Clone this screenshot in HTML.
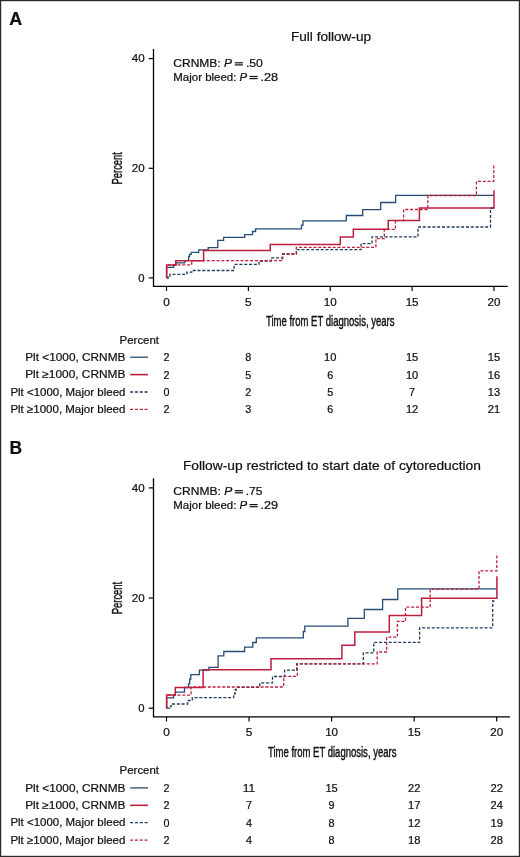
<!DOCTYPE html>
<html><head><meta charset="utf-8"><style>
html,body{margin:0;padding:0;background:#fff;}
body{width:520px;height:857px;overflow:hidden;}
svg{display:block;will-change:transform;}
text{font-family:'Liberation Sans', sans-serif;fill:#111;stroke:#111;stroke-width:0.22px;}
</style></head><body>
<svg width="520" height="857" viewBox="0 0 520 857">
<rect x="0" y="0" width="520" height="857" fill="#fff"/>
<rect x="0.6" y="0.6" width="518.8" height="855.8" fill="none" stroke="#2a2a2a" stroke-width="1.2"/>
<text x="9.3" y="24.8" font-size="17.6" font-weight="bold" textLength="13.0" lengthAdjust="spacingAndGlyphs">A</text>
<text x="9.5" y="453.8" font-size="17.6" font-weight="bold" textLength="12.6" lengthAdjust="spacingAndGlyphs">B</text>
<path d="M153.5,48.9 V286.3 H507.7" fill="none" stroke="#000" stroke-width="1.3"/>
<path d="M148.8,277.9 H153.5" stroke="#000" stroke-width="1.2"/>
<text x="144.6" y="281.6" font-size="10.4" text-anchor="end" textLength="6.3" lengthAdjust="spacingAndGlyphs">0</text>
<path d="M148.8,168.3 H153.5" stroke="#000" stroke-width="1.2"/>
<text x="144.6" y="172.0" font-size="10.4" text-anchor="end" textLength="12.9" lengthAdjust="spacingAndGlyphs">20</text>
<path d="M148.8,58.6 H153.5" stroke="#000" stroke-width="1.2"/>
<text x="144.6" y="62.3" font-size="10.4" text-anchor="end" textLength="12.9" lengthAdjust="spacingAndGlyphs">40</text>
<path d="M166.5,286.3 V290.9" stroke="#000" stroke-width="1.2"/>
<text x="166.5" y="305.5" font-size="10.4" text-anchor="middle" textLength="6.6" lengthAdjust="spacingAndGlyphs">0</text>
<path d="M248.38,286.3 V290.9" stroke="#000" stroke-width="1.2"/>
<text x="248.38" y="305.5" font-size="10.4" text-anchor="middle" textLength="6.6" lengthAdjust="spacingAndGlyphs">5</text>
<path d="M330.25,286.3 V290.9" stroke="#000" stroke-width="1.2"/>
<text x="330.25" y="305.5" font-size="10.4" text-anchor="middle" textLength="12.9" lengthAdjust="spacingAndGlyphs">10</text>
<path d="M412.12,286.3 V290.9" stroke="#000" stroke-width="1.2"/>
<text x="412.12" y="305.5" font-size="10.4" text-anchor="middle" textLength="12.9" lengthAdjust="spacingAndGlyphs">15</text>
<path d="M494.0,286.3 V290.9" stroke="#000" stroke-width="1.2"/>
<text x="494.0" y="305.5" font-size="10.4" text-anchor="middle" textLength="12.9" lengthAdjust="spacingAndGlyphs">20</text>
<text x="330.25" y="325.7" font-size="13.8" text-anchor="middle" textLength="128.5" lengthAdjust="spacingAndGlyphs" style="stroke-width:0.42px">Time from ET diagnosis, years</text>
<text transform="translate(122.2,168.3) rotate(-90)" x="0" y="0" font-size="13.8" text-anchor="middle" textLength="32.3" lengthAdjust="spacingAndGlyphs" style="stroke-width:0.42px">Percent</text>
<text x="291.0" y="40.8" font-size="12.7" textLength="80.0" lengthAdjust="spacingAndGlyphs">Full follow-up</text>
<text x="173.3" y="67.3" font-size="10.5" textLength="58.7" lengthAdjust="spacingAndGlyphs">CRNMB: <tspan font-style="italic">P</tspan></text>
<rect x="234.8" y="62.2" width="8.1" height="1.2" fill="#111"/><rect x="234.8" y="64.3" width="8.1" height="1.2" fill="#111"/>
<text x="245.9" y="67.3" font-size="10.5" textLength="17" lengthAdjust="spacingAndGlyphs">.50</text>
<text x="173.3" y="81.0" font-size="10.5" textLength="73.9" lengthAdjust="spacingAndGlyphs">Major bleed: <tspan font-style="italic">P</tspan></text>
<rect x="249.5" y="75.9" width="8.1" height="1.2" fill="#111"/><rect x="249.5" y="78.0" width="8.1" height="1.2" fill="#111"/>
<text x="260.4" y="81.0" font-size="10.5" textLength="17.6" lengthAdjust="spacingAndGlyphs">.28</text>
<path d="M166.6,278.0 H166.6 V267.3 H173.7 V264.9 H176.0 V262.8 H184.8 V260.7 H188.6 V256.5 H189.6 V254.4 H191.2 V252.3 H198.7 V249.9 H208.2 V247.6 H217.8 V240.4 H223.6 V237.3 H244.7 V234.7 H252.5 V231.5 H255.6 V228.8 H301.5 V225.2 H303 V220.9 H346.3 V215.5 H362.7 V209.6 H380.7 V202.5 H395.6 V195.4 H493.8 V195.4" fill="none" stroke="#264c76" stroke-width="1.3"/>
<path d="M166.6,278.0 H166.6 V264.9 H175.8 V260.7 H203.6 V250.5 H270.2 V244.6 H340.3 V237.0 H353.3 V229.2 H388.2 V220.6 H419.4 V208.1 H494.0 V190.3" fill="none" stroke="#be1e3e" stroke-width="1.5"/>
<path d="M166.6,278.0 H168.2 V276.4 H169.9 V274.3 H186.9 V272.2 H191.7 V270.5 H234.1 V264.4 H259.0 V261.0 H271.2 V257.8 H282.7 V254.0 H296.5 V249.7 H361.0 V243.6 H372.0 V236.9 H418.0 V227.0 H490.5 V208.2 H493.8 V208.2" fill="none" stroke="#1f3a5c" stroke-width="1.3" stroke-dasharray="3.0,1.8"/>
<path d="M166.6,278.0 H166.6 V264.9 H191.7 V260.7 H282.5 V254.0 H296.3 V247.3 H375.9 V238.6 H384.3 V229.4 H395.4 V220.6 H403.6 V209.5 H427.8 V195.5 H476.4 V181.4 H493.8 V164.3" fill="none" stroke="#be1e3e" stroke-width="1.3" stroke-dasharray="3.0,1.8"/>
<text x="119.6" y="343.5" font-size="10.9" textLength="39.4" lengthAdjust="spacingAndGlyphs">Percent</text>
<text x="125.4" y="360.8" font-size="10.9" text-anchor="end" textLength="100.2" lengthAdjust="spacingAndGlyphs">Plt &lt;1000, CRNMB</text>
<path d="M130.2,357.2 H148" stroke="#264c76" stroke-width="1.3"/>
<text x="166.5" y="361.2" font-size="10.5" text-anchor="middle" textLength="6.0" lengthAdjust="spacingAndGlyphs">2</text>
<text x="248.38" y="361.2" font-size="10.5" text-anchor="middle" textLength="6.0" lengthAdjust="spacingAndGlyphs">8</text>
<text x="330.25" y="361.2" font-size="10.5" text-anchor="middle" textLength="12.4" lengthAdjust="spacingAndGlyphs">10</text>
<text x="412.12" y="361.2" font-size="10.5" text-anchor="middle" textLength="12.4" lengthAdjust="spacingAndGlyphs">15</text>
<text x="494.0" y="361.2" font-size="10.5" text-anchor="middle" textLength="12.4" lengthAdjust="spacingAndGlyphs">15</text>
<text x="125.4" y="378.2" font-size="10.9" text-anchor="end" textLength="100.2" lengthAdjust="spacingAndGlyphs">Plt ≥1000, CRNMB</text>
<path d="M130.2,374.6 H148" stroke="#be1e3e" stroke-width="1.6"/>
<text x="166.5" y="378.6" font-size="10.5" text-anchor="middle" textLength="6.0" lengthAdjust="spacingAndGlyphs">2</text>
<text x="248.38" y="378.6" font-size="10.5" text-anchor="middle" textLength="6.0" lengthAdjust="spacingAndGlyphs">5</text>
<text x="330.25" y="378.6" font-size="10.5" text-anchor="middle" textLength="6.0" lengthAdjust="spacingAndGlyphs">6</text>
<text x="412.12" y="378.6" font-size="10.5" text-anchor="middle" textLength="12.4" lengthAdjust="spacingAndGlyphs">10</text>
<text x="494.0" y="378.6" font-size="10.5" text-anchor="middle" textLength="12.4" lengthAdjust="spacingAndGlyphs">16</text>
<text x="125.4" y="395.6" font-size="10.9" text-anchor="end" textLength="115.0" lengthAdjust="spacingAndGlyphs">Plt &lt;1000, Major bleed</text>
<path d="M130.2,392.0 H148" stroke="#1f3a5c" stroke-width="1.3" stroke-dasharray="3.0,1.8"/>
<text x="166.5" y="396.0" font-size="10.5" text-anchor="middle" textLength="6.0" lengthAdjust="spacingAndGlyphs">0</text>
<text x="248.38" y="396.0" font-size="10.5" text-anchor="middle" textLength="6.0" lengthAdjust="spacingAndGlyphs">2</text>
<text x="330.25" y="396.0" font-size="10.5" text-anchor="middle" textLength="6.0" lengthAdjust="spacingAndGlyphs">5</text>
<text x="412.12" y="396.0" font-size="10.5" text-anchor="middle" textLength="6.0" lengthAdjust="spacingAndGlyphs">7</text>
<text x="494.0" y="396.0" font-size="10.5" text-anchor="middle" textLength="12.4" lengthAdjust="spacingAndGlyphs">13</text>
<text x="125.4" y="413.0" font-size="10.9" text-anchor="end" textLength="115.0" lengthAdjust="spacingAndGlyphs">Plt ≥1000, Major bleed</text>
<path d="M130.2,409.4 H148" stroke="#be1e3e" stroke-width="1.3" stroke-dasharray="3.0,1.8"/>
<text x="166.5" y="413.4" font-size="10.5" text-anchor="middle" textLength="6.0" lengthAdjust="spacingAndGlyphs">2</text>
<text x="248.38" y="413.4" font-size="10.5" text-anchor="middle" textLength="6.0" lengthAdjust="spacingAndGlyphs">3</text>
<text x="330.25" y="413.4" font-size="10.5" text-anchor="middle" textLength="6.0" lengthAdjust="spacingAndGlyphs">6</text>
<text x="412.12" y="413.4" font-size="10.5" text-anchor="middle" textLength="12.4" lengthAdjust="spacingAndGlyphs">12</text>
<text x="494.0" y="413.4" font-size="10.5" text-anchor="middle" textLength="12.4" lengthAdjust="spacingAndGlyphs">21</text>
<path d="M153.5,478.2 V716.9 H509.9" fill="none" stroke="#000" stroke-width="1.3"/>
<path d="M148.8,708.2 H153.5" stroke="#000" stroke-width="1.2"/>
<text x="144.6" y="711.9" font-size="10.4" text-anchor="end" textLength="6.3" lengthAdjust="spacingAndGlyphs">0</text>
<path d="M148.8,598.0 H153.5" stroke="#000" stroke-width="1.2"/>
<text x="144.6" y="601.7" font-size="10.4" text-anchor="end" textLength="12.9" lengthAdjust="spacingAndGlyphs">20</text>
<path d="M148.8,487.9 H153.5" stroke="#000" stroke-width="1.2"/>
<text x="144.6" y="491.6" font-size="10.4" text-anchor="end" textLength="12.9" lengthAdjust="spacingAndGlyphs">40</text>
<path d="M166.5,716.9 V721.5" stroke="#000" stroke-width="1.2"/>
<text x="166.5" y="736.1" font-size="10.4" text-anchor="middle" textLength="6.6" lengthAdjust="spacingAndGlyphs">0</text>
<path d="M249.05,716.9 V721.5" stroke="#000" stroke-width="1.2"/>
<text x="249.05" y="736.1" font-size="10.4" text-anchor="middle" textLength="6.6" lengthAdjust="spacingAndGlyphs">5</text>
<path d="M331.6,716.9 V721.5" stroke="#000" stroke-width="1.2"/>
<text x="331.6" y="736.1" font-size="10.4" text-anchor="middle" textLength="12.9" lengthAdjust="spacingAndGlyphs">10</text>
<path d="M414.15,716.9 V721.5" stroke="#000" stroke-width="1.2"/>
<text x="414.15" y="736.1" font-size="10.4" text-anchor="middle" textLength="12.9" lengthAdjust="spacingAndGlyphs">15</text>
<path d="M496.7,716.9 V721.5" stroke="#000" stroke-width="1.2"/>
<text x="496.7" y="736.1" font-size="10.4" text-anchor="middle" textLength="12.9" lengthAdjust="spacingAndGlyphs">20</text>
<text x="332.2" y="756.9" font-size="13.8" text-anchor="middle" textLength="128.5" lengthAdjust="spacingAndGlyphs" style="stroke-width:0.42px">Time from ET diagnosis, years</text>
<text transform="translate(122.2,598.0) rotate(-90)" x="0" y="0" font-size="13.8" text-anchor="middle" textLength="32.3" lengthAdjust="spacingAndGlyphs" style="stroke-width:0.42px">Percent</text>
<text x="182.9" y="469.8" font-size="12.7" textLength="298.0" lengthAdjust="spacingAndGlyphs">Follow-up restricted to start date of cytoreduction</text>
<text x="173.3" y="495.2" font-size="10.5" textLength="58.9" lengthAdjust="spacingAndGlyphs">CRNMB: <tspan font-style="italic">P</tspan></text>
<rect x="234.8" y="490.1" width="8.1" height="1.2" fill="#111"/><rect x="234.8" y="492.2" width="8.1" height="1.2" fill="#111"/>
<text x="245.7" y="495.2" font-size="10.5" textLength="16.8" lengthAdjust="spacingAndGlyphs">.75</text>
<text x="173.3" y="509.1" font-size="10.5" textLength="73.9" lengthAdjust="spacingAndGlyphs">Major bleed: <tspan font-style="italic">P</tspan></text>
<rect x="249.5" y="504.0" width="8.1" height="1.2" fill="#111"/><rect x="249.5" y="506.1" width="8.1" height="1.2" fill="#111"/>
<text x="260.4" y="509.1" font-size="10.5" textLength="17.6" lengthAdjust="spacingAndGlyphs">.29</text>
<path d="M166.6,708.2 H166.6 V697.9 H173.5 V695.1 H175.4 V692.1 H184.5 V687.5 H188.5 V683.8 H189.7 V679.0 H190.8 V674.6 H199.4 V670.2 H208.8 V667.3 H218.1 V655.8 H223.8 V651.5 H244.6 V647.1 H252.8 V642.5 H256.3 V637.9 H303.3 V631.5 H304.8 V626.2 H347.9 V618.4 H364.3 V609.5 H382.6 V599.5 H397.8 V588.9 H496.3 V588.9" fill="none" stroke="#264c76" stroke-width="1.3"/>
<path d="M166.6,708.2 H166.6 V695.1 H175.3 V687.5 H203.1 V669.7 H271.0 V658.8 H341.9 V645.3 H354.8 V632.0 H389.3 V615.5 H421.6 V598.2 H496.9 V576.2" fill="none" stroke="#be1e3e" stroke-width="1.5"/>
<path d="M166.6,708.2 H169.5 V706.6 H171.2 V704.0 H187.7 V700.5 H192.3 V697.7 H233.7 V694.0 H235.0 V690.0 H236.2 V687.4 H259.8 V682.9 H272.5 V676.5 H284.6 V670.2 H296.7 V663.8 H363.3 V652.8 H373.8 V642.3 H419.6 V627.8 H492.7 V601.0 H495.5 V601.0" fill="none" stroke="#1f3a5c" stroke-width="1.3" stroke-dasharray="3.0,1.8"/>
<path d="M166.6,708.2 H166.6 V695.1 H191.1 V687.0 H283.7 V676.3 H297.3 V663.8 H377.2 V652.0 H386.6 V637.2 H397.4 V621.4 H405.5 V607.2 H430.2 V589.2 H479.0 V570.8 H496.8 V553.2" fill="none" stroke="#be1e3e" stroke-width="1.3" stroke-dasharray="3.0,1.8"/>
<text x="119.6" y="773.8" font-size="10.9" textLength="39.4" lengthAdjust="spacingAndGlyphs">Percent</text>
<text x="125.4" y="791.5" font-size="10.9" text-anchor="end" textLength="100.2" lengthAdjust="spacingAndGlyphs">Plt &lt;1000, CRNMB</text>
<path d="M130.2,787.9 H148" stroke="#264c76" stroke-width="1.3"/>
<text x="166.5" y="791.9" font-size="10.5" text-anchor="middle" textLength="6.0" lengthAdjust="spacingAndGlyphs">2</text>
<text x="249.05" y="791.9" font-size="10.5" text-anchor="middle" textLength="12.4" lengthAdjust="spacingAndGlyphs">11</text>
<text x="331.6" y="791.9" font-size="10.5" text-anchor="middle" textLength="12.4" lengthAdjust="spacingAndGlyphs">15</text>
<text x="414.15" y="791.9" font-size="10.5" text-anchor="middle" textLength="12.4" lengthAdjust="spacingAndGlyphs">22</text>
<text x="496.7" y="791.9" font-size="10.5" text-anchor="middle" textLength="12.4" lengthAdjust="spacingAndGlyphs">22</text>
<text x="125.4" y="808.9" font-size="10.9" text-anchor="end" textLength="100.2" lengthAdjust="spacingAndGlyphs">Plt ≥1000, CRNMB</text>
<path d="M130.2,805.3 H148" stroke="#be1e3e" stroke-width="1.6"/>
<text x="166.5" y="809.3" font-size="10.5" text-anchor="middle" textLength="6.0" lengthAdjust="spacingAndGlyphs">2</text>
<text x="249.05" y="809.3" font-size="10.5" text-anchor="middle" textLength="6.0" lengthAdjust="spacingAndGlyphs">7</text>
<text x="331.6" y="809.3" font-size="10.5" text-anchor="middle" textLength="6.0" lengthAdjust="spacingAndGlyphs">9</text>
<text x="414.15" y="809.3" font-size="10.5" text-anchor="middle" textLength="12.4" lengthAdjust="spacingAndGlyphs">17</text>
<text x="496.7" y="809.3" font-size="10.5" text-anchor="middle" textLength="12.4" lengthAdjust="spacingAndGlyphs">24</text>
<text x="125.4" y="826.3" font-size="10.9" text-anchor="end" textLength="115.0" lengthAdjust="spacingAndGlyphs">Plt &lt;1000, Major bleed</text>
<path d="M130.2,822.7 H148" stroke="#1f3a5c" stroke-width="1.3" stroke-dasharray="3.0,1.8"/>
<text x="166.5" y="826.7" font-size="10.5" text-anchor="middle" textLength="6.0" lengthAdjust="spacingAndGlyphs">0</text>
<text x="249.05" y="826.7" font-size="10.5" text-anchor="middle" textLength="6.0" lengthAdjust="spacingAndGlyphs">4</text>
<text x="331.6" y="826.7" font-size="10.5" text-anchor="middle" textLength="6.0" lengthAdjust="spacingAndGlyphs">8</text>
<text x="414.15" y="826.7" font-size="10.5" text-anchor="middle" textLength="12.4" lengthAdjust="spacingAndGlyphs">12</text>
<text x="496.7" y="826.7" font-size="10.5" text-anchor="middle" textLength="12.4" lengthAdjust="spacingAndGlyphs">19</text>
<text x="125.4" y="843.7" font-size="10.9" text-anchor="end" textLength="115.0" lengthAdjust="spacingAndGlyphs">Plt ≥1000, Major bleed</text>
<path d="M130.2,840.1 H148" stroke="#be1e3e" stroke-width="1.3" stroke-dasharray="3.0,1.8"/>
<text x="166.5" y="844.1" font-size="10.5" text-anchor="middle" textLength="6.0" lengthAdjust="spacingAndGlyphs">2</text>
<text x="249.05" y="844.1" font-size="10.5" text-anchor="middle" textLength="6.0" lengthAdjust="spacingAndGlyphs">4</text>
<text x="331.6" y="844.1" font-size="10.5" text-anchor="middle" textLength="6.0" lengthAdjust="spacingAndGlyphs">8</text>
<text x="414.15" y="844.1" font-size="10.5" text-anchor="middle" textLength="12.4" lengthAdjust="spacingAndGlyphs">18</text>
<text x="496.7" y="844.1" font-size="10.5" text-anchor="middle" textLength="12.4" lengthAdjust="spacingAndGlyphs">28</text>
</svg>
</body></html>
